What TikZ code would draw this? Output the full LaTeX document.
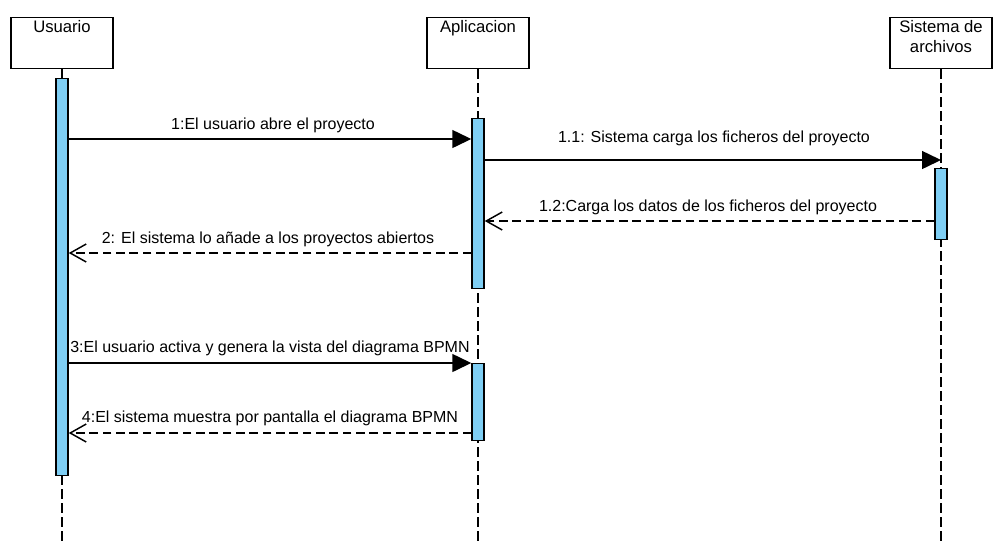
\documentclass[tikz,border=0pt]{standalone}
\usepackage{fontspec}
\setmainfont{Liberation Sans}
\usetikzlibrary{arrows.meta}
\definecolor{actblue}{RGB}{126,206,244}
\tikzset{
  px/.style={x=0.75pt,y=-0.75pt},
  head/.style={draw=black,line width=1.1pt,fill=white,minimum width=76.5pt,minimum height=38.25pt,inner sep=0pt,anchor=north,font=\fontsize{12pt}{15pt}\selectfont},
  headlabel/.style={anchor=north,align=center,inner sep=0pt,font=\fontsize{12.5pt}{15pt}\selectfont},
  lifeline/.style={line width=1.1pt,dash pattern=on 7pt off 3.5pt},
  act/.style={draw=black,line width=1.1pt,fill=actblue,minimum width=9pt,inner sep=0pt,anchor=north},
  sync/.style={line width=1.1pt,-{Triangle[length=14.25pt,width=13.5pt]}},
  reply/.style={line width=1.1pt,dash pattern=on 6.5pt off 3.5pt,-{Straight Barb[length=12pt,width=13.5pt,line width=1.1pt]}},
  msg/.style={inner sep=0pt,font=\fontsize{12pt}{15pt}\selectfont}
}
\begin{document}
\begin{tikzpicture}[px]
\useasboundingbox (0,0) rectangle (1005,544);
% heads
\node[head] (uhead) at (62,17) {};
\node[head] (ahead) at (478,17) {};
\node[head] (shead) at (941,17) {};
\node[headlabel] (ulab) at (62,20.5) {Usuario};
\node[headlabel] (alab) at (478,20.5) {Aplicacion};
\node[headlabel] (slab) at (941,20.5) {Sistema de\\archivos};
% lifelines
\coordinate (uend) at (62,544);
\coordinate (aend) at (478,544);
\coordinate (send) at (941,544);
\draw[lifeline] (uhead.south) -- (uend);
\draw[lifeline] (ahead.south) -- (aend);
\draw[lifeline] (shead.south) -- (send);
% activations
\node[act,minimum height=297.75pt] (uact) at (62,78) {};
\node[act,minimum height=127.5pt] (aact1) at (478,118) {};
\node[act,minimum height=57.75pt] (aact2) at (478,363) {};
\node[act,minimum height=53.25pt] (sact) at (941,168) {};
% messages
\draw[sync] (uact.east |- 0,139) -- (aact1.west |- 0,139);
\node[msg] (m1) at (273,125) {1:El usuario abre el proyecto};
\draw[sync] (aact1.east |- 0,160) -- (shead.south |- 0,160);
\node[msg] (m11) at (714,138) {1.1: Sistema carga los ficheros del proyecto};
\draw[reply] (sact.west |- 0,221) -- (aact1.east |- 0,221);
\node[msg] (m12) at (708,207) {1.2:Carga los datos de los ficheros del proyecto};
\draw[reply] (aact1.west |- 0,253) -- (uact.east |- 0,253);
\node[msg] (m2) at (268,239) {2: El sistema lo añade a los proyectos abiertos};
\draw[sync] (uact.east |- 0,363) -- (aact2.west |- 0,363);
\node[msg] (m3) at (270,348) {3:El usuario activa y genera la vista del diagrama BPMN};
\draw[reply] (aact2.west |- 0,433) -- (uact.east |- 0,433);
\node[msg] (m4) at (270,418) {4:El sistema muestra por pantalla el diagrama BPMN};
\end{tikzpicture}
\end{document}
